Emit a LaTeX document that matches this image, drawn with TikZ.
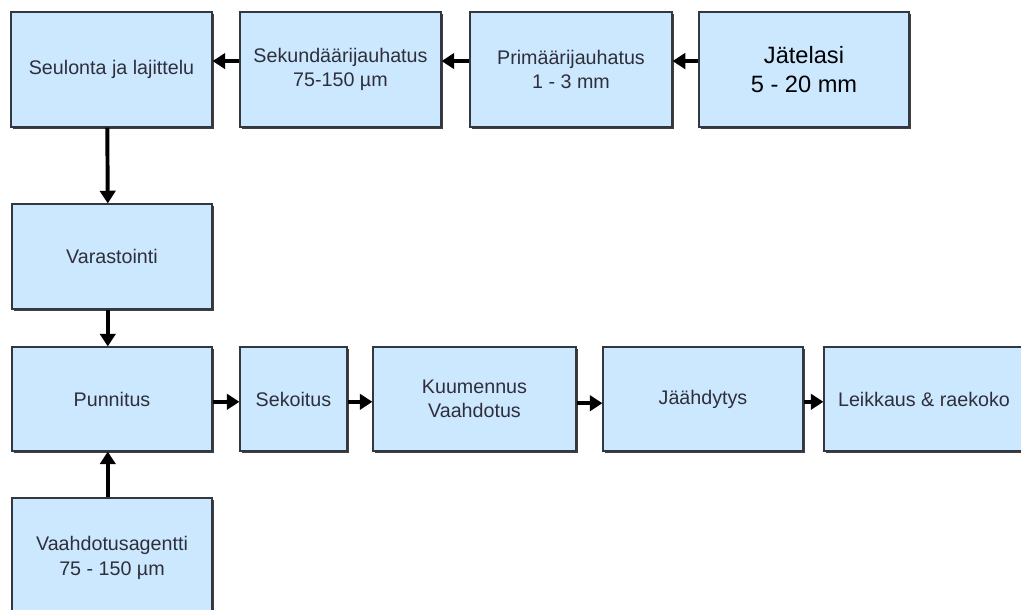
\documentclass[tikz,border=0pt]{standalone}
\usepackage{fontspec}
\setmainfont{Liberation Sans}
\usepackage{tikz}
\usetikzlibrary{arrows.meta,shadows}

\definecolor{boxblue}{HTML}{CCE8FF}
\definecolor{boxline}{HTML}{333840}
\definecolor{boxtext}{HTML}{2E2F3A}

\begin{document}
\begin{tikzpicture}[x=0.025cm, y=-0.025cm,
  vaihe/.style={draw=boxline, line width=0.8pt, fill=boxblue, align=center,
    text=boxtext, font=\fontsize{14}{17.5}\selectfont, inner sep=0pt,
    minimum width=5cm, minimum height=2.875cm,
    drop shadow={shadow xshift=1.3pt, shadow yshift=-1.3pt, fill=black!75, opacity=1}},
  nuoli/.style={-{Triangle[length=9pt,width=11pt]}, line width=2.8pt, black}]
  \useasboundingbox (0,0) rectangle (1021,610);
  \clip (0,0) rectangle (1021,610);
  % ylarivi
  \node[vaihe, minimum width=5.025cm] (seul) at (111.5,69.5) {Seulonta ja lajittelu};
  \node[vaihe, minimum width=5.025cm] (seku) at (340.5,69.5) {Sekundäärijauhatus\\75-150 µm};
  \node[vaihe, minimum width=5.05cm] (prim) at (571,69.5) {Primäärijauhatus\\1 - 3 mm};
  \node[vaihe, minimum width=5.25cm, text=black, font=\fontsize{16.8}{20}\selectfont] (jate) at (804,69.5) {Jätelasi\\5 - 20 mm};
  % vasen sarake
  \node[vaihe, minimum height=2.625cm] (vara) at (112,256.5) {Varastointi};
  \node[vaihe, minimum height=2.6cm] (punn) at (112,399) {Punnitus};
  \node[vaihe, minimum height=3cm] (vaah) at (112,558) {Vaahdotusagentti\\75 - 150 µm};
  % alarivi
  \node[vaihe, minimum width=2.675cm, minimum height=2.6cm] (seko) at (293.5,399) {Sekoitus};
  \node[vaihe, minimum width=5.075cm, minimum height=2.6cm] (kuum) at (474.5,399) {Kuumennus\\Vaahdotus};
  \node[vaihe, minimum height=2.6cm] (jaah) at (703,399) {Jäähdytys};
  \node[vaihe, minimum height=2.6cm] (leik) at (924,399) {Leikkaus \& raekoko};
  % nuolet
  \draw[nuoli] ([yshift=6pt]jate.west) -- ([yshift=6pt]prim.east);
  \draw[nuoli] ([yshift=6pt]prim.west) -- ([yshift=6pt]seku.east);
  \draw[nuoli] ([yshift=6pt]seku.west) -- ([yshift=6pt]seul.east);
  \draw[nuoli] ([xshift=-3pt]seul.south) -- ([xshift=-3pt]vara.north);
  \draw[nuoli] ([xshift=-3pt]vara.south) -- ([xshift=-3pt]punn.north);
  \draw[nuoli] ([xshift=-3pt]vaah.north) -- ([xshift=-3pt]punn.south);
  \draw[nuoli] ([yshift=-2pt]punn.east) -- ([yshift=-2pt]seko.west);
  \draw[nuoli] ([yshift=-2pt]seko.east) -- ([yshift=-2pt]kuum.west);
  \draw[nuoli] ([yshift=-3pt]kuum.east) -- ([yshift=-3pt]jaah.west);
  \draw[nuoli] ([yshift=-2pt]jaah.east) -- ([yshift=-2pt]leik.west);
\end{tikzpicture}
\end{document}
